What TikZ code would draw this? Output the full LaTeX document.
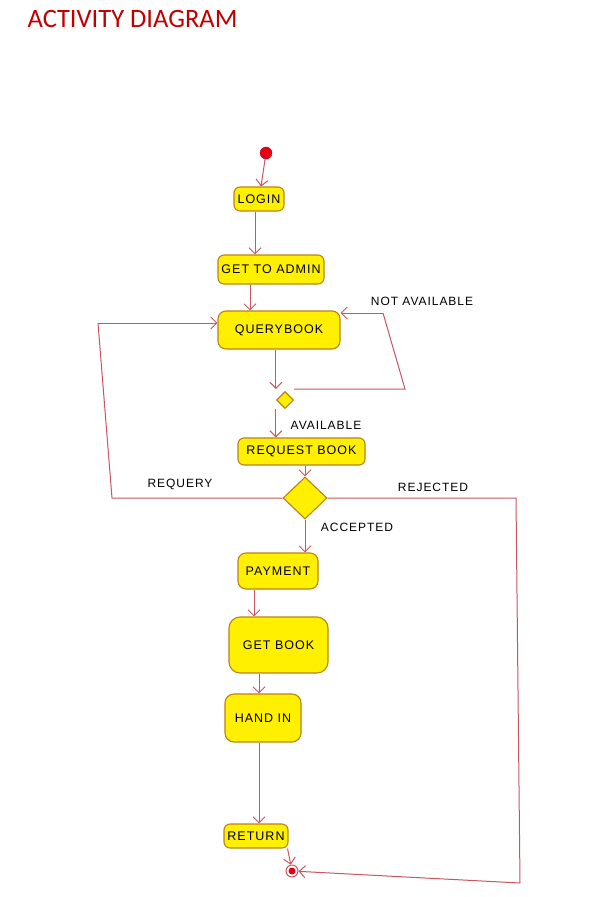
\documentclass[tikz,border=0pt]{standalone}
\usepackage{fontspec}
\setmainfont{Liberation Sans}
\newfontfamily\titlefont{Carlito}
\newfontfamily\boxfont[LetterSpace=8]{Liberation Sans}
\newfontfamily\lblfont[LetterSpace=8]{Liberation Sans}
\usetikzlibrary{shapes.geometric,arrows.meta}
\definecolor{boxfill}{RGB}{255,240,0}
\definecolor{boxline}{RGB}{185,130,20}
\definecolor{conn}{RGB}{200,85,95}
\definecolor{titlered}{RGB}{192,0,0}
\definecolor{startred}{RGB}{230,0,20}
\tikzset{
  act/.style={draw=boxline, fill=boxfill, line width=1.1pt, rounded corners=6pt,
    inner sep=0pt, font=\boxfont\fontsize{12.5}{15}\selectfont},
  dec/.style={draw=boxline, fill=boxfill, line width=1.1pt, diamond, inner sep=0pt},
  arr/.style={draw=conn, line width=1pt, -{Straight Barb[length=6pt,width=12pt,line width=1pt]}},
  conline/.style={draw=conn, line width=1pt},
  lbl/.style={font=\lblfont\fontsize{12}{14}\selectfont, inner sep=0pt}
}
\begin{document}
\begin{tikzpicture}[x=1pt,y=-1pt]
\useasboundingbox (0,0) rectangle (590,897);
\node[anchor=base west, text=titlered, inner sep=0pt, font=\titlefont\fontsize{26.5}{30}\selectfont] (title) at (27.5,27) {ACTIVITY DIAGRAM};

\node[circle, fill=startred, draw=startred!80!black, line width=0.4pt, minimum size=12pt, inner sep=0pt] (start) at (266,153) {};
\node[act, minimum width=50pt, minimum height=24pt] (login) at (259,199) {LOGIN};
\node[act, minimum width=106pt, minimum height=29pt] (admin) at (271,269.5) {GET TO ADMIN};
\node[act, minimum width=122pt, minimum height=38pt, rounded corners=8pt] (qb) at (279,330) {QUERYBOOK};
\node[dec, minimum width=17pt, minimum height=17pt] (d1) at (285,400) {};
\node[act, minimum width=127pt, minimum height=27pt] (rb) at (301.5,451.5) {REQUEST BOOK};
\node[dec, minimum width=44pt, minimum height=42pt] (d2) at (305,498) {};
\node[act, minimum width=80pt, minimum height=36pt, rounded corners=8pt] (pay) at (278,571) {PAYMENT};
\node[act, minimum width=99pt, minimum height=56pt, rounded corners=11pt] (gb) at (278.5,645) {GET BOOK};
\node[act, minimum width=76pt, minimum height=48pt, rounded corners=9pt] (hi) at (263,718) {HAND IN};
\node[act, minimum width=64pt, minimum height=24pt] (ret) at (256,836) {RETURN};
\node[circle, draw=conn, fill=white, line width=1pt, minimum size=12pt, inner sep=0pt] (endn) at (292,871) {};
\node[circle, fill=startred, minimum size=7pt, inner sep=0pt] (endc) at (endn) {};

% labels
\node[lbl] (lna) at (422,301) {NOT AVAILABLE};
\node[lbl] (lav) at (326,425) {AVAILABLE};
\node[lbl] (lrq) at (180,484) {REQUERY};
\node[lbl] (lrj) at (433,487) {REJECTED};
\node[lbl] (lac) at (357,527) {ACCEPTED};

% bend points
\coordinate (na1) at (405,389);
\coordinate (na2) at (383,313);
\coordinate (rq1) at (112,498);
\coordinate (rq2) at (98,323);
\coordinate (rj1) at (516,498);
\coordinate (rj2) at (520,883);

% connectors
\draw[arr] (start) -- ([xshift=2pt]login.north);
\draw[arr] ([xshift=-4pt]login.south) -- ([xshift=-4pt]login.south |- admin.north);
\draw[arr] ([xshift=-21pt]admin.south) -- ([xshift=-21pt]admin.south |- qb.north);
\draw[arr] (qb.south -| d1.west) -- ([yshift=2pt]d1.north -| d1.west);
\draw[conline] ([yshift=11pt]d1.east) -- (na1) -- (na2);
\draw[arr] (na2) -- (na2 -| qb.east);
\draw[arr] (d1.west |- d1.south) -- (d1.west |- rb.north);
\draw[arr] (rb.south -| d2.north) -- (d2.north);
\draw[conline] (d2.west) -- (rq1) -- (rq2);
\draw[arr] (rq2) -- (rq2 -| qb.west);
\draw[conline] (d2.east) -- (rj1) -- (rj2);
\draw[arr] (rj2) -- (endn);
\draw[arr] (d2.south) -- (d2.south |- pay.north);
\draw[arr] ([xshift=-24pt]pay.south) -- ([xshift=-24pt]pay.south |- gb.north);
\draw[arr] ([xshift=-19.5pt]gb.south) -- ([xshift=-19.5pt]gb.south |- hi.north);
\draw[arr] ([xshift=-4pt]hi.south) -- ([xshift=-4pt]hi.south |- ret.north);
\draw[arr] ([xshift=-1pt]ret.south east) -- (endn);
\end{tikzpicture}
\end{document}
